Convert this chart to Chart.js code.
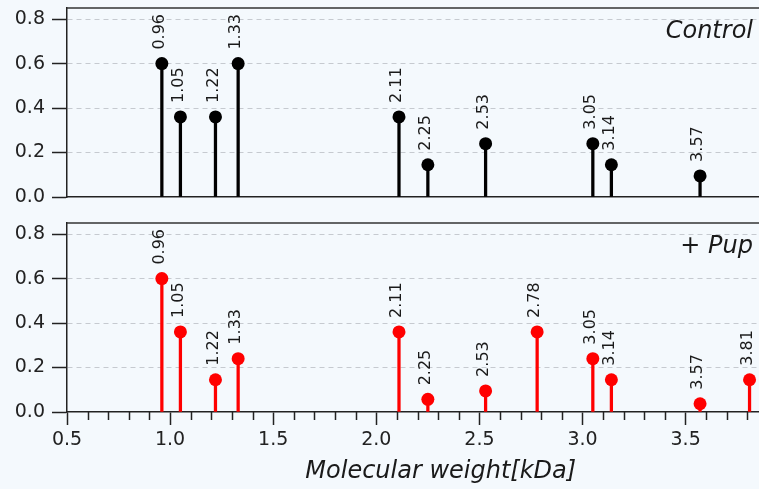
<!DOCTYPE html>
<html>
<head>
<meta charset="utf-8">
<title>Molecular weight</title>
<script src="https://cdn.jsdelivr.net/npm/chart.js@4.4.0/dist/chart.umd.min.js"></script>
<style>
  html, body { margin: 0; padding: 0; background: #f4f9fd; }
  #wrap { position: relative; width: 759px; height: 489px; overflow: hidden; }
  .panel { position: absolute; left: 0; width: 821px; }
  #top { top: 0; height: 205px; }
  #bottom { top: 205px; height: 284px; }
</style>
</head>
<body>
<div id="wrap">
  <div class="panel" id="top"><canvas id="controlChart"></canvas></div>
  <div class="panel" id="bottom"><canvas id="pupChart"></canvas></div>
</div>
<script>
// peaks (kDa, relative intensity)
var controlMw  = [0.96, 1.05, 1.22, 1.33, 2.11, 2.25, 2.53, 3.05, 3.14, 3.57];
var controlVal = [0.60, 0.36, 0.36, 0.60, 0.36, 0.145, 0.24, 0.24, 0.145, 0.095];
var pupMw  = [0.96, 1.05, 1.22, 1.33, 2.11, 2.25, 2.53, 2.78, 3.05, 3.14, 3.57, 3.81];
var pupVal = [0.60, 0.36, 0.145, 0.24, 0.36, 0.057, 0.095, 0.36, 0.24, 0.145, 0.037, 0.145];

var yTicks = [0, 0.2, 0.4, 0.6, 0.8];
var xTicks = [0.5, 1.0, 1.5, 2.0, 2.5, 3.0, 3.5, 4.0];
var xMinorTicks = [0.6, 0.7, 0.8, 0.9, 1.1, 1.2, 1.3, 1.4, 1.6, 1.7, 1.8, 1.9,
                   2.1, 2.2, 2.3, 2.4, 2.6, 2.7, 2.8, 2.9, 3.1, 3.2, 3.3, 3.4,
                   3.6, 3.7, 3.8, 3.9];

var FONT = 'DejaVu Sans';
var INK = '#1a1a1a';
var AXIS = '#222';

// labels above the stems, panel name, top frame, minor ticks
var stemLabels = {
    id: 'stemLabels',
    afterDatasetsDraw: function(chart, args, opts) {
        var ctx = chart.ctx, area = chart.chartArea;
        ctx.save();
        ctx.strokeStyle = '#333';
        ctx.lineWidth = 1.5;
        ctx.beginPath();
        ctx.moveTo(area.left, area.top);
        ctx.lineTo(area.right, area.top);
        ctx.stroke();

        var meta = chart.getDatasetMeta(0);
        ctx.fillStyle = INK;
        ctx.font = '16px "' + FONT + '"';
        ctx.textAlign = 'left';
        ctx.textBaseline = 'middle';
        meta.data.forEach(function(pt, i) {
            ctx.save();
            ctx.translate(pt.x, pt.y - 14);
            ctx.rotate(-Math.PI / 2);
            ctx.fillText(opts.mw[i].toFixed(2), 0, -2);
            ctx.restore();
        });

        ctx.font = 'italic 24px "' + FONT + '"';
        ctx.textAlign = 'right';
        ctx.textBaseline = 'alphabetic';
        ctx.fillText(opts.name, 753, area.top + 30);

        if (opts.minor) {
            var xs = chart.scales.x;
            ctx.strokeStyle = AXIS;
            ctx.lineWidth = 1.5;
            xMinorTicks.forEach(function(v) {
                var px = Math.round(xs.getPixelForValue(v)) + 0.5;
                ctx.beginPath();
                ctx.moveTo(px, area.bottom);
                ctx.lineTo(px, area.bottom + 8);
                ctx.stroke();
            });
        }
        ctx.restore();
    }
};

function makeChart(id, mw, vals, color, name, bottomAxis) {
    var pts = mw.map(function(x, i) { return { x: x, y: vals[i] }; });
    return new Chart(document.getElementById(id), {
        type: 'bar',
        data: {
            datasets: [{
                type: 'line',
                data: pts,
                showLine: false,
                pointRadius: 6.5,
                pointHoverRadius: 6.5,
                pointBackgroundColor: color,
                pointBorderWidth: 0,
                order: 0
            }, {
                type: 'bar',
                data: pts,
                backgroundColor: color,
                borderWidth: 0,
                barThickness: 2.6,
                grouped: false,
                order: 1
            }]
        },
        options: {
            responsive: true,
            maintainAspectRatio: false,
            animation: false,
            layout: { padding: bottomAxis ? { top: 18, bottom: 0, left: 0, right: 0 }
                                          : { top: 8, bottom: 8, left: 0, right: 0 } },
            plugins: {
                legend: { display: false },
                tooltip: { enabled: false },
                stemLabels: { mw: mw, name: name, minor: bottomAxis }
            },
            scales: {
                x: {
                    type: 'linear',
                    min: 0.5,
                    max: 4.125,
                    offset: false,
                    afterBuildTicks: function(a) { a.ticks = xTicks.map(function(v) { return { value: v }; }); },
                    afterFit: function(a) {
                        a.height = bottomAxis ? 77 : 0;
                        a.paddingLeft = 0;
                        a.paddingRight = 0;
                    },
                    ticks: {
                        display: bottomAxis,
                        color: AXIS,
                        font: { family: FONT, size: 19 },
                        padding: 4,
                        maxRotation: 0,
                        autoSkip: false,
                        callback: function(v) { return v.toFixed(1); }
                    },
                    grid: {
                        display: bottomAxis,
                        drawOnChartArea: false,
                        offset: false,
                        tickLength: 13,
                        tickColor: AXIS,
                        tickWidth: 1.5
                    },
                    border: { color: AXIS, width: 1.5 },
                    title: {
                        display: bottomAxis,
                        text: 'Molecular weight[kDa]',
                        color: INK,
                        font: { family: FONT, size: 24, style: 'italic' },
                        padding: { top: 0, bottom: 3 }
                    }
                },
                y: {
                    min: 0,
                    max: 0.85,
                    afterBuildTicks: function(a) { a.ticks = yTicks.map(function(v) { return { value: v }; }); },
                    afterFit: function(a) {
                        a.width = 67;
                        a.paddingTop = 0;
                        a.paddingBottom = 0;
                    },
                    ticks: {
                        color: AXIS,
                        font: { family: FONT, size: 19 },
                        padding: 7,
                        callback: function(v) { return v.toFixed(1); }
                    },
                    grid: {
                        color: function(c) { return c.tick && c.tick.value === 0 ? 'rgba(0,0,0,0)' : '#c6cad0'; },
                        lineWidth: 1,
                        tickLength: 15,
                        tickColor: AXIS,
                        tickWidth: 1.5
                    },
                    border: { color: AXIS, width: 1.5, dash: [5, 4] }
                }
            }
        },
        plugins: [stemLabels]
    });
}

document.addEventListener('DOMContentLoaded', function() {
    makeChart('controlChart', controlMw, controlVal, '#000000', 'Control', false);
    makeChart('pupChart', pupMw, pupVal, '#ff0000', '+ Pup', true);
});
</script>
</body>
</html>
